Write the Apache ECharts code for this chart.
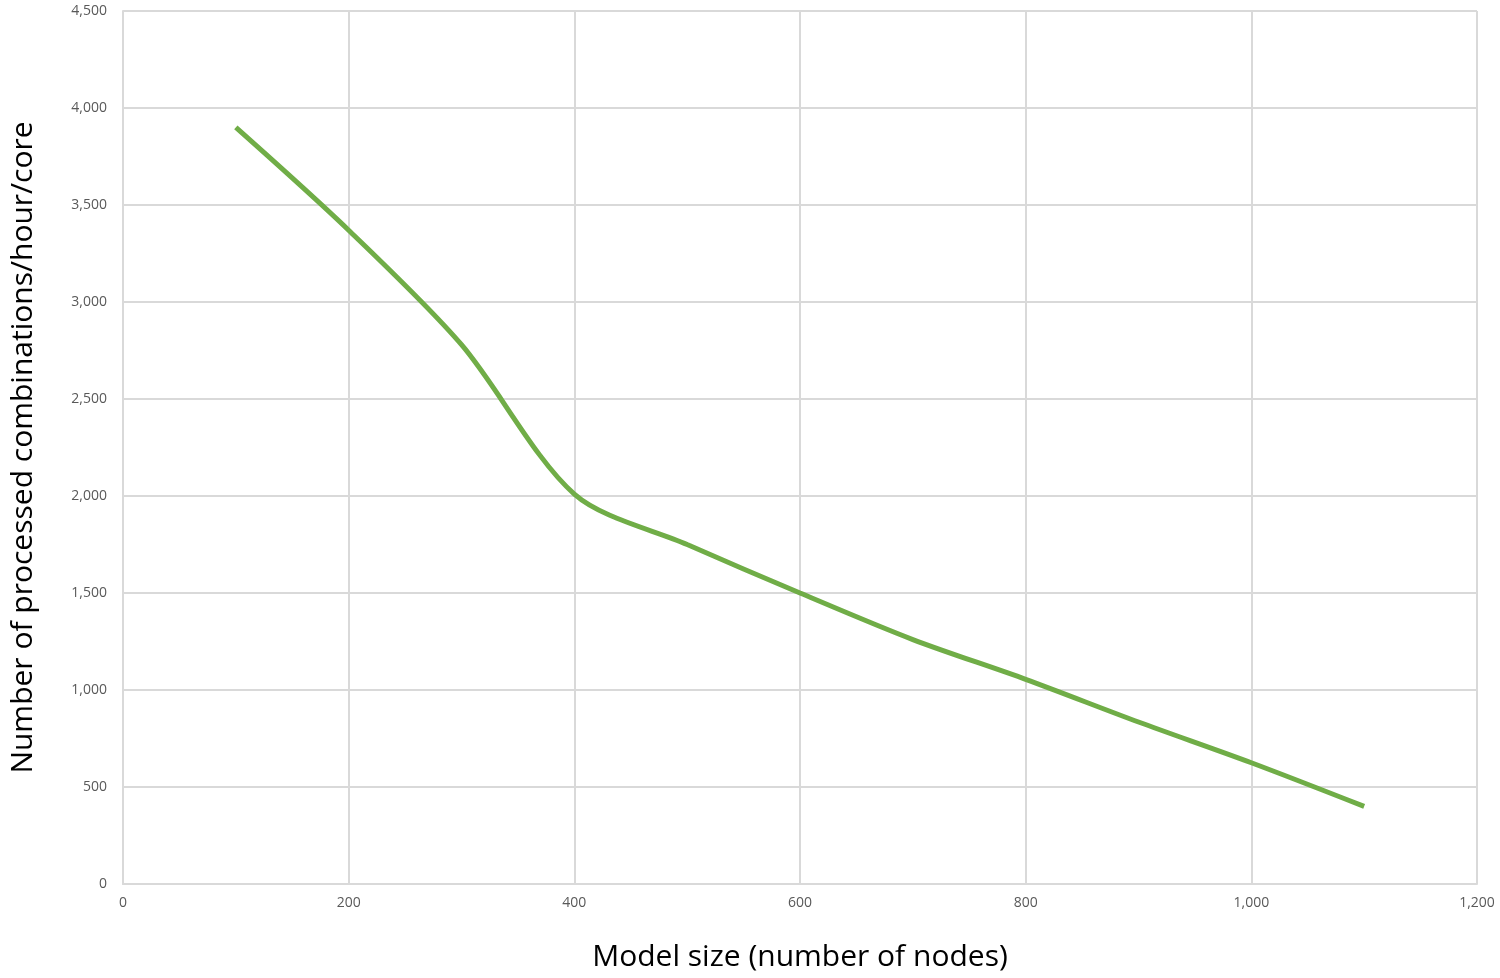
<!DOCTYPE html>
<html><head><meta charset="utf-8">
<script src="https://cdn.jsdelivr.net/npm/echarts@6/dist/echarts.min.js"></script>
<style>html,body{margin:0;padding:0;background:#fff}#c{width:1500px;height:978px}</style>
</head><body><div id="c"></div>
<script>
const xValues = [100, 200, 300, 400, 500, 600, 700, 800, 900, 1000, 1100];
const yValues = [3900, 3370, 2780, 2010, 1750, 1500, 1260, 1055, 835, 625, 400];
const data = xValues.map((x, i) => [x, yValues[i]]);
const chart = echarts.init(document.getElementById('c'));
chart.setOption({
  animation: false,
  grid: {left: 118, right: 23, top: 11, bottom: 94},
  xAxis: {type: 'value', min: 0, max: 1200, interval: 200,
    name: 'Model size (number of nodes)', nameLocation: 'middle', nameGap: 58,
    nameTextStyle: {fontSize: 30, color: '#000', fontFamily: 'Open Sans'},
    axisLine: {lineStyle: {color: '#d9d9d9', width: 2}}, axisTick: {show: false},
    axisLabel: {color: '#595959', fontSize: 14, margin: 12, fontFamily: 'Open Sans'},
    splitLine: {show: true, lineStyle: {color: '#d9d9d9', width: 2}}},
  yAxis: {type: 'value', min: 0, max: 4500, interval: 500,
    name: 'Number of processed combinations/hour/core', nameLocation: 'middle', nameGap: 85,
    nameTextStyle: {fontSize: 30, color: '#000', fontFamily: 'Open Sans'},
    axisLine: {show: true, lineStyle: {color: '#d9d9d9', width: 2}}, axisTick: {show: false},
    axisLabel: {color: '#595959', fontSize: 14, margin: 16, fontFamily: 'Open Sans'},
    splitLine: {show: true, lineStyle: {color: '#d9d9d9', width: 2}}},
  series: [{type: 'line', data: data, smooth: 0.3, showSymbol: false,
    lineStyle: {color: '#70ad47', width: 5}}]
});
</script></body></html>
